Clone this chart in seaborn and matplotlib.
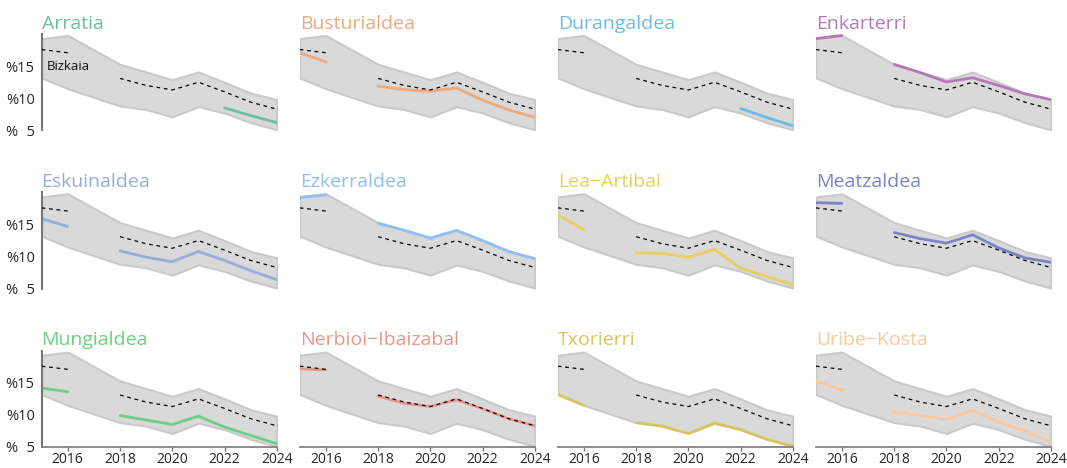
import numpy as np
import pandas as pd
import matplotlib
matplotlib.use("Agg")
import matplotlib.pyplot as plt
import seaborn as sns

years = [2015, 2016, 2017, 2018, 2019, 2020, 2021, 2022, 2023, 2024]
nan = np.nan

bizkaia = [17.6, 17.1, nan, 13.1, 12.0, 11.3, 12.5, 11.0, 9.4, 8.3]

regions = [
    "Arratia", "Busturialdea", "Durangaldea", "Enkarterri",
    "Eskuinaldea", "Ezkerraldea", "Lea\u2212Artibai", "Meatzaldea",
    "Mungialdea", "Nerbioi\u2212Ibaizabal", "Txorierri", "Uribe\u2212Kosta",
]

arratia = [nan, nan, nan, nan, nan, nan, nan, 8.5, 7.3, 6.2]
busturialdea = [17.1, 15.7, nan, 11.9, 11.35, 11.1, 11.6, 9.7, 8.2, 7.0]
durangaldea = [nan, nan, nan, nan, nan, nan, nan, 8.4, 7.0, 5.7]
enkarterri = [19.3, 19.8, nan, 15.3, 14.0, 12.55, 13.2, 12.0, 10.7, 9.8]
eskuinaldea = [15.9, 14.7, nan, 10.9, 9.9, 9.2, 10.8, 9.4, 7.8, 6.4]
ezkerraldea = [19.25, 19.6, nan, 15.2, 14.1, 12.9, 14.1, 12.5, 10.8, 9.65]
lea_artibai = [16.5, 14.2, nan, 10.6, 10.5, 9.9, 11.1, 8.2, 6.9, 5.6]
meatzaldea = [18.4, 18.3, nan, 13.75, 12.8, 12.1, 13.4, 11.35, 9.8, 9.1]
mungialdea = [14.2, 13.6, nan, 9.9, 9.2, 8.5, 9.8, 8.1, 6.8, 5.5]
nerbioi = [17.2, 17.0, nan, 12.9, 11.8, 11.3, 12.35, 10.95, 9.4, 8.3]
txorierri = [13.2, 11.5, nan, 8.8, 8.25, 7.1, 8.7, 7.7, 6.2, 5.1]
uribe_kosta = [15.3, 13.9, nan, 10.5, 9.9, 9.3, 10.7, 8.9, 7.5, 5.75]

values = [arratia, busturialdea, durangaldea, enkarterri,
          eskuinaldea, ezkerraldea, lea_artibai, meatzaldea,
          mungialdea, nerbioi, txorierri, uribe_kosta]

colors = ["#6dbca3", "#eeaa7b", "#6cbde6", "#b678b6",
          "#98acdb", "#8fbff5", "#ebcd5f", "#7c83c9",
          "#6ccf83", "#e8968c", "#d7c55c", "#fcc89b"]

y_ticks = [5, 10, 15]
y_labels = ["%\u20075", "%10", "%15"]
x_ticks = [2016, 2018, 2020, 2022, 2024]

sns.set_theme(style="white")
plt.rcParams["font.family"] = ["Open Sans", "DejaVu Sans"]

# long table, one segment before and one after the 2017 gap
rows = []
for name, vals in zip(regions, values):
    for y, v in zip(years, vals):
        rows.append((name, y, v, 0 if y < 2017 else 1))
df = pd.DataFrame(rows, columns=["region", "year", "value", "segment"])

biz = pd.DataFrame({"year": years, "value": bizkaia})
biz["segment"] = (biz["year"] > 2017).astype(int)
biz = biz.dropna()

# band: range across the comarcas, only years with data
wide = df.pivot(index="year", columns="region", values="value").dropna(how="all")
band_lo = wide.min(axis=1)
band_hi = wide.max(axis=1)

fig, axs = plt.subplots(3, 4, figsize=(10.67, 4.68), dpi=100)
fig.subplots_adjust(left=0.039, right=0.985, top=0.927, bottom=0.045,
                    wspace=0.097, hspace=0.646)

for i, ax in enumerate(axs.flat):
    name = regions[i]
    ax.fill_between(wide.index, band_lo, band_hi, facecolor="#d9d9d9",
                    edgecolor="#c9c9c9", linewidth=1.5, zorder=1)
    sns.lineplot(data=biz, x="year", y="value", units="segment", estimator=None,
                 color="black", linestyle=(0, (3, 3)), linewidth=0.9, ax=ax,
                 zorder=3)
    sub = df[df["region"] == name].dropna()
    sns.lineplot(data=sub, x="year", y="value", units="segment", estimator=None,
                 color=colors[i], linewidth=2, ax=ax, zorder=2)

    ax.set_xlim(2015, 2024)
    ax.set_ylim(5, 20)
    ax.set_xlabel("")
    ax.set_ylabel("")
    ax.set_title(name, loc="left", color=colors[i], fontsize=14, pad=4)
    for s in ax.spines.values():
        s.set_visible(False)

    col, row = i % 4, i // 4
    ax.set_yticks(y_ticks)
    if col == 0:
        ax.spines["left"].set_visible(True)
        ax.spines["left"].set_color("#777777")
        ax.spines["left"].set_linewidth(1.5)
        ax.set_yticklabels(y_labels)
        ax.tick_params(axis="y", length=0, pad=5, labelsize=10.5)
    else:
        ax.tick_params(axis="y", left=False, labelleft=False)

    ax.set_xticks(x_ticks)
    if row == 2:
        ax.spines["bottom"].set_visible(True)
        ax.spines["bottom"].set_color("#777777")
        ax.spines["bottom"].set_linewidth(1.2)
        ax.tick_params(axis="x", bottom=True, length=3, width=1,
                       color="#777777", labelsize=10, pad=1)
    else:
        ax.tick_params(axis="x", bottom=False, labelbottom=False)

axs[0, 0].text(2015.2, 14.9, "Bizkaia", fontsize=9.5, va="center", ha="left",
               color="#111111", zorder=4)

fig.savefig("out.png", dpi=100)
